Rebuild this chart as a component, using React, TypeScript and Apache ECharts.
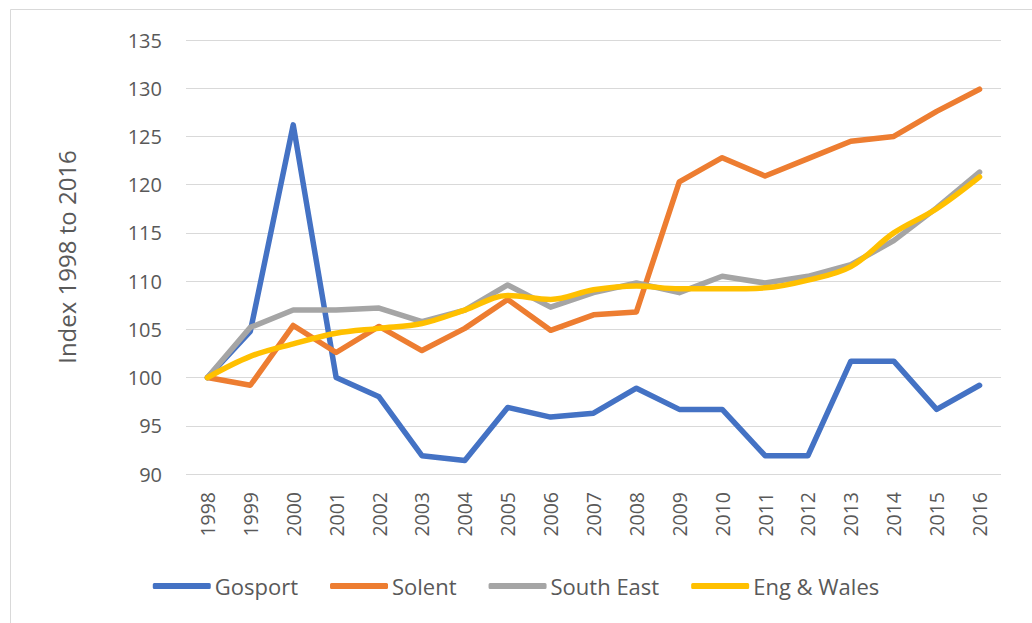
import React, { useEffect, useRef } from "react";
import * as echarts from "echarts";

const years = ["1998","1999","2000","2001","2002","2003","2004","2005","2006","2007","2008","2009","2010","2011","2012","2013","2014","2015","2016"];
const gosport = [100, 104.8, 126.2, 100.0, 98.0, 91.9, 91.4, 96.9, 95.9, 96.3, 98.9, 96.7, 96.7, 91.9, 91.9, 101.7, 101.7, 96.7, 99.2];
const solent = [100, 99.2, 105.4, 102.6, 105.3, 102.8, 105.1, 108.1, 104.9, 106.5, 106.8, 120.3, 122.8, 120.9, 122.7, 124.5, 125.0, 127.6, 129.9];
const southEast = [100, 105.2, 107.0, 107.0, 107.2, 105.8, 107.0, 109.6, 107.3, 108.8, 109.8, 108.8, 110.5, 109.8, 110.5, 111.7, 114.2, 117.6, 121.3];
const engWales = [100, 102.2, 103.5, 104.6, 105.1, 105.6, 107.0, 108.5, 108.1, 109.1, 109.5, 109.2, 109.2, 109.3, 110.1, 111.5, 115.0, 117.5, 120.8];
const yTicks = { min: 90, max: 135, interval: 5 };

const FONT = "'Open Sans', 'Noto Sans', sans-serif";
const TEXT = "#595959";

export default function App() {
  const ref = useRef<HTMLDivElement>(null);
  useEffect(() => {
    document.body.style.margin = "0";
    const chart = echarts.init(ref.current!, null, { renderer: "svg" });
    const mk = (name: string, data: number[], color: string, smooth = false) => ({
      name,
      type: "line",
      data,
      smooth: smooth ? 0.35 : false,
      showSymbol: false,
      symbol: "none",
      lineStyle: { color, width: 5.5, cap: "round", join: "round" },
      itemStyle: { color },
    });
    chart.setOption({
      animation: false,
      backgroundColor: "#ffffff",
      graphic: [
        {
          type: "rect",
          left: 8,
          top: 7,
          shape: { x: 0, y: 0, width: 1040, height: 640 },
          style: { fill: "none", stroke: "#D9D9D9", lineWidth: 1 },
          silent: true,
          z: -10,
        },
      ],
      grid: { left: 186, right: 31, top: 40, bottom: 149, containLabel: false },
      legend: {
        bottom: 21,
        left: "center",
        itemWidth: 58,
        itemHeight: 6,
        itemGap: 32,
        icon: "roundRect",
        textStyle: { fontFamily: FONT, fontSize: 22, color: TEXT, padding: [0, 0, 0, -1] },
        data: ["Gosport", "Solent", "South East", "Eng & Wales"],
      },
      xAxis: {
        type: "category",
        data: years,
        boundaryGap: true,
        axisLine: { show: false },
        axisTick: { show: false },
        axisLabel: { rotate: 90, margin: 18, fontFamily: FONT, fontSize: 19.5, color: TEXT },
      },
      yAxis: {
        type: "value",
        min: yTicks.min,
        max: yTicks.max,
        interval: yTicks.interval,
        name: "Index 1998 to 2016",
        nameLocation: "middle",
        nameGap: 108,
        nameRotate: 90,
        nameTextStyle: { fontFamily: FONT, fontSize: 24, color: TEXT },
        axisLine: { show: false },
        axisTick: { show: false },
        axisLabel: { margin: 24, fontFamily: FONT, fontSize: 20, color: TEXT },
        splitLine: { lineStyle: { color: "#D9D9D9", width: 1 } },
      },
      series: [
        mk("Gosport", gosport, "#4472C4"),
        mk("Solent", solent, "#ED7D31"),
        mk("South East", southEast, "#A5A5A5"),
        mk("Eng & Wales", engWales, "#FFC000", true),
      ],
    });
    return () => chart.dispose();
  }, []);
  return <div ref={ref} style={{ width: 1032, height: 623 }} />;
}
